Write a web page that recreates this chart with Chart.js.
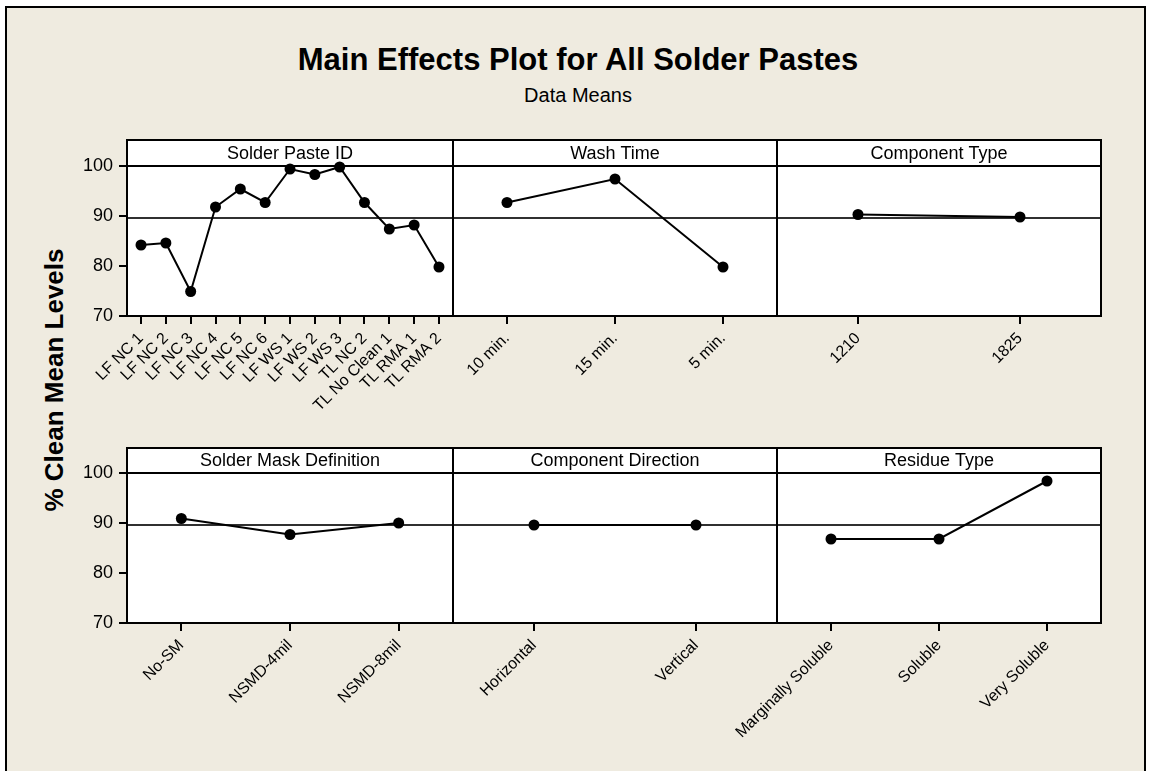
<!DOCTYPE html>
<html>
<head>
<meta charset="utf-8">
<script src="https://cdn.jsdelivr.net/npm/chart.js@4.4.0/dist/chart.umd.min.js"></script>
<style>
html,body{margin:0;padding:0;background:#fff;}
#page{position:relative;width:1151px;height:771px;overflow:hidden;background:#fff;font-family:'Liberation Sans',Arial,sans-serif;color:#000;}
#frame{position:absolute;left:5px;top:6px;width:1137px;height:820px;border:2px solid #000;background:#EFEBE0;}
#title{position:absolute;left:0;top:44px;width:1156px;text-align:center;font-weight:bold;font-size:31px;line-height:31px;white-space:nowrap;}
#subtitle{position:absolute;left:0;top:85px;width:1156px;text-align:center;font-size:20px;line-height:20px;white-space:nowrap;}
#ylabel{position:absolute;left:-146px;top:367px;width:400px;height:26px;text-align:center;font-weight:bold;font-size:26px;line-height:26px;white-space:nowrap;transform:rotate(-90deg);transform-origin:50% 50%;}
canvas.panel{position:absolute;left:0;top:0;}
</style>
</head>
<body>
<div id="page">
  <div id="frame"></div>
  <div id="title">Main Effects Plot for All Solder Pastes</div>
  <div id="subtitle">Data Means</div>
  <div id="ylabel">% Clean Mean Levels</div>
</div>
<script>
// ---- data ----
const solderPasteIds = ['LF NC 1','LF NC 2','LF NC 3','LF NC 4','LF NC 5','LF NC 6','LF WS 1','LF WS 2','LF WS 3','TL NC 2','TL No Clean 1','TL RMA 1','TL RMA 2'];
const solderPasteMeans = [84.2,84.6,74.9,91.8,95.4,92.7,99.4,98.3,99.8,92.7,87.4,88.2,79.8];
const washTimes = ['10 min.','15 min.','5 min.'];
const washTimeMeans = [92.7,97.4,79.8];
const componentTypes = ['1210','1825'];
const componentTypeMeans = [90.3,89.8];
const solderMaskDefs = ['No-SM','NSMD-4mil','NSMD-8mil'];
const solderMaskMeans = [90.9,87.7,90.0];
const componentDirections = ['Horizontal','Vertical'];
const componentDirectionMeans = [89.6,89.6];
const residueTypes = ['Marginally Soluble','Soluble','Very Soluble'];
const residueTypeMeans = [86.8,86.8,98.4];
const grandMean = 89.6;
const yTickValues = [70,80,90,100];

// ---- layout ----
const PAGE_W = 1151, PAGE_H = 771;
const cols = [[127,453],[453,777],[777,1101]];
const rows = [{stripTop:140, top:166, bottom:316},{stripTop:448, top:473, bottom:623}];
const Y_AXIS_W = 60, X_AXIS_H = 120;

const panels = [
  {title:'Solder Paste ID', cats:solderPasteIds, vals:solderPasteMeans, row:0, col:0, pad:0.565},
  {title:'Wash Time', cats:washTimes, vals:washTimeMeans, row:0, col:1, pad:0.5},
  {title:'Component Type', cats:componentTypes, vals:componentTypeMeans, row:0, col:2, pad:0.5},
  {title:'Solder Mask Definition', cats:solderMaskDefs, vals:solderMaskMeans, row:1, col:0, pad:0.5},
  {title:'Component Direction', cats:componentDirections, vals:componentDirectionMeans, row:1, col:1, pad:0.5},
  {title:'Residue Type', cats:residueTypes, vals:residueTypeMeans, row:1, col:2, pad:0.5}
];

Chart.defaults.font.family = "'Liberation Sans', Arial, sans-serif";
Chart.defaults.color = '#000';

const panelFrame = {
  id: 'panelFrame',
  beforeDraw(chart, args, opts) {
    const {ctx, chartArea: a} = chart;
    const st = opts.stripTop;
    ctx.save();
    ctx.fillStyle = '#fff';
    ctx.fillRect(a.left, st, a.right - a.left, a.bottom - st);
    ctx.fillStyle = '#000';
    ctx.font = "18px 'Liberation Sans', Arial, sans-serif";
    ctx.textAlign = 'center';
    ctx.textBaseline = 'middle';
    ctx.fillText(opts.label, (a.left + a.right) / 2, (st + a.top) / 2 + 1);
    const y = chart.scales.y.getPixelForValue(opts.mean);
    ctx.strokeStyle = '#303030';
    ctx.lineWidth = 2;
    ctx.beginPath();
    ctx.moveTo(a.left, y);
    ctx.lineTo(a.right, y);
    ctx.stroke();
    ctx.restore();
  },
  beforeDatasetsDraw(chart, args, opts) {
    const {ctx, chartArea: a} = chart;
    const st = opts.stripTop;
    ctx.save();
    ctx.strokeStyle = '#000';
    ctx.lineWidth = 2;
    ctx.strokeRect(a.left, st, a.right - a.left, a.bottom - st);
    ctx.beginPath();
    ctx.moveTo(a.left, a.top);
    ctx.lineTo(a.right, a.top);
    ctx.stroke();
    ctx.restore();
  }
};

const page = document.getElementById('page');
panels.forEach(p => {
  const [cl, cr] = cols[p.col];
  const r = rows[p.row];
  const showY = p.col === 0;
  const cv = document.createElement('canvas');
  cv.className = 'panel';
  cv.width = PAGE_W; cv.height = PAGE_H;
  cv.style.width = PAGE_W + 'px'; cv.style.height = PAGE_H + 'px';
  page.appendChild(cv);
  const n = p.cats.length;
  new Chart(cv, {
    type: 'line',
    data: {
      datasets: [{
        data: p.vals.map((v, i) => ({x: i, y: v})),
        borderColor: '#000',
        borderWidth: 2,
        pointRadius: 5.5,
        pointBackgroundColor: '#000',
        pointBorderWidth: 0,
        tension: 0,
        clip: false
      }]
    },
    options: {
      responsive: false,
      animation: false,
      events: [],
      layout: {
        padding: {
          left: showY ? cl - Y_AXIS_W : cl,
          right: PAGE_W - cr,
          top: r.top,
          bottom: PAGE_H - r.bottom - X_AXIS_H
        }
      },
      plugins: {
        legend: {display: false},
        tooltip: {enabled: false},
        panelFrame: {label: p.title, stripTop: r.stripTop, mean: grandMean}
      },
      scales: {
        x: {
          type: 'linear',
          min: -p.pad,
          max: n - 1 + p.pad,
          afterBuildTicks: s => { s.ticks = p.cats.map((c, i) => ({value: i})); },
          afterFit: s => { s.height = X_AXIS_H; },
          grid: {drawOnChartArea: false, drawTicks: true, tickLength: 8, color: '#000', lineWidth: 2},
          border: {display: false},
          ticks: {
            autoSkip: false,
            minRotation: 45,
            maxRotation: 45,
            padding: 5,
            color: '#000',
            font: {size: 16},
            callback: v => p.cats[v]
          }
        },
        y: {
          display: showY,
          min: 70,
          max: 100,
          afterBuildTicks: s => { s.ticks = yTickValues.map(v => ({value: v})); },
          afterFit: s => { s.width = showY ? Y_AXIS_W : 0; },
          grid: {drawOnChartArea: false, drawTicks: true, tickLength: 8, color: '#000', lineWidth: 2},
          border: {display: false},
          ticks: {padding: 6, color: '#000', font: {size: 18}}
        }
      }
    },
    plugins: [panelFrame]
  });
});
</script>
</body>
</html>
